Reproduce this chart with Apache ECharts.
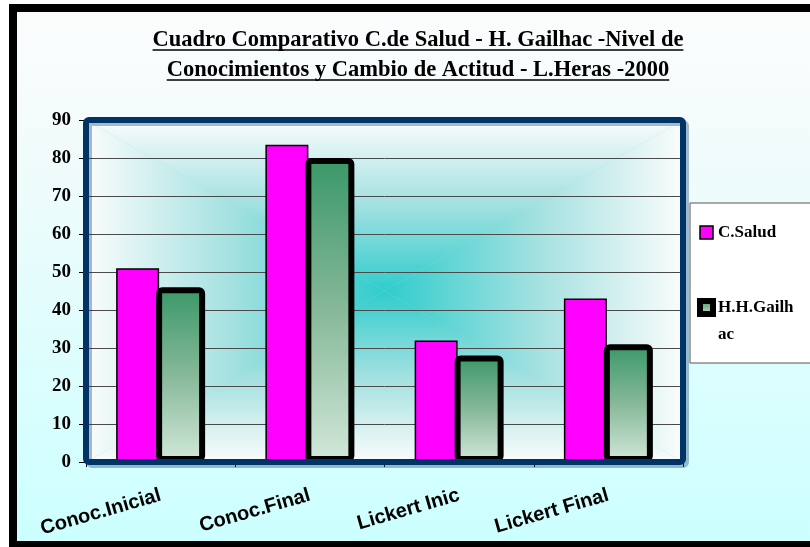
<!DOCTYPE html>
<html>
<head>
<meta charset="utf-8">
<script src="https://cdn.jsdelivr.net/npm/echarts@6/dist/echarts.min.js"></script>
<style>
  html, body { margin: 0; padding: 0; width: 810px; height: 547px; overflow: hidden; background: #fff; }
  #frame {
    position: absolute; left: 9px; top: 4px; width: 900px; height: 545px;
    box-sizing: border-box; border: 8px solid #000;
    background: linear-gradient(to bottom, #fbfdfd 0%, #f2fbfb 25%, #ccffff 100%);
  }
  #chart { position: absolute; left: 0; top: 0; width: 810px; height: 547px; }
</style>
</head>
<body>
<div id="frame"></div>
<div id="chart"></div>
<script>
// Data
const categories = ['Conoc.Inicial', 'Conoc.Final', 'Lickert Inic', 'Lickert Final'];
const seriesNames = ['C.Salud', 'H.H.Gailhac'];
const saludValues = [51, 83.5, 32, 43];
const gailhacValues = [46, 80, 28, 31];
const yMin = 0, yMax = 90, yStep = 10;
const titleLines = [
  'Cuadro Comparativo C.de Salud - H. Gailhac -Nivel de',
  'Conocimientos y Cambio de Actitud - L.Heras -2000'
];

// Layout of the plotting area (pixels)
const GRID = { left: 86, top: 120, right: 683, bottom: 462 };
const cx = (GRID.left + GRID.right) / 2, cy = (GRID.top + GRID.bottom) / 2;

const TITLE_X = 418, TITLE_TOP = 25, TITLE_LH = 30, TITLE_FS = 22.5;
const titleFont = 'bold ' + TITLE_FS + 'px "Liberation Serif"';

function textWidth(str, font) {
  const c = document.createElement('canvas').getContext('2d');
  c.font = font;
  return c.measureText(str).width;
}

// "from centre" rectangular gradient: four triangles fading edge -> centre
const EDGE = '#fafcfc', MID = '#a2e0e0', CENTER = '#30cccc';
function stops() {
  return [{ offset: 0, color: EDGE }, { offset: 0.5, color: MID }, { offset: 1, color: CENTER }];
}
function lin(x, y, x2, y2) {
  return { type: 'linear', x: x, y: y, x2: x2, y2: y2, global: true, colorStops: stops() };
}
const L = GRID.left, T = GRID.top, R = GRID.right, B = GRID.bottom;
const bgElements = [
  { type: 'rect', z: -20, silent: true, shape: { x: L, y: T, width: R - L, height: B - T }, style: { fill: MID } },
  { type: 'polygon', z: -19, silent: true, shape: { points: [[L, T], [R, T], [cx, cy]] }, style: { fill: lin(0, T, 0, cy) } },
  { type: 'polygon', z: -19, silent: true, shape: { points: [[L, B], [R, B], [cx, cy]] }, style: { fill: lin(0, B, 0, cy) } },
  { type: 'polygon', z: -19, silent: true, shape: { points: [[L, T], [L, B], [cx, cy]] }, style: { fill: lin(L, 0, cx, 0) } },
  { type: 'polygon', z: -19, silent: true, shape: { points: [[R, T], [R, B], [cx, cy]] }, style: { fill: lin(R, 0, cx, 0) } },
  // navy frame around the plot
  { type: 'rect', z: 50, silent: true,
    shape: { x: L, y: T, width: R - L, height: B - T, r: 3 },
    style: { fill: null, stroke: '#003366', lineWidth: 6,
             shadowColor: 'rgba(20,60,110,0.35)', shadowOffsetX: 3, shadowOffsetY: 3, shadowBlur: 0 } }
];

// underline for each title line
const underlines = titleLines.map(function (s, i) {
  const w = textWidth(s, titleFont);
  const y = TITLE_TOP + TITLE_LH * i + TITLE_LH / 2 + 10;
  return { type: 'line', z: 60, silent: true,
    shape: { x1: TITLE_X - w / 2, y1: y, x2: TITLE_X + w / 2, y2: y },
    style: { stroke: '#000', lineWidth: 1.5 } };
});

const chart = echarts.init(document.getElementById('chart'), null, { renderer: 'canvas' });

chart.setOption({
  backgroundColor: 'transparent',
  animation: false,
  title: {
    text: titleLines.join('\n'),
    left: TITLE_X, top: TITLE_TOP, textAlign: 'center', padding: 0,
    textStyle: { fontFamily: 'Liberation Serif', fontWeight: 'bold', fontSize: TITLE_FS, color: '#000', lineHeight: TITLE_LH }
  },
  legend: {
    orient: 'vertical',
    left: 690, top: 203,
    backgroundColor: '#ffffff',
    borderColor: '#555', borderWidth: 1, borderRadius: 0,
    padding: [16, 40, 15, 7],
    itemWidth: 13, itemHeight: 13, itemGap: 21,
    icon: 'rect',
    textStyle: { fontFamily: 'Liberation Serif', fontWeight: 'bold', fontSize: 17, color: '#000', lineHeight: 27 },
    // long name wraps in the narrow box; a blank first line keeps "H.H.Gailh" level with its key
    formatter: function (name) { return name === 'H.H.Gailhac' ? '\nH.H.Gailh\nac' : name; },
    data: [
      { name: seriesNames[0], itemStyle: { borderWidth: 1.5, borderColor: '#000' } },
      { name: seriesNames[1], itemStyle: { borderWidth: 6, borderColor: '#000' } }
    ]
  },
  grid: { left: GRID.left, top: GRID.top, width: GRID.right - GRID.left, height: GRID.bottom - GRID.top, show: false },
  xAxis: {
    type: 'category',
    data: categories,
    offset: 4,
    axisLine: { show: true, lineStyle: { color: '#000', width: 1 } },
    axisTick: { show: true, length: 5, alignWithLabel: false, lineStyle: { color: '#000' } },
    axisLabel: {
      rotate: 16, margin: 29, interval: 0,
      fontFamily: 'Liberation Sans', fontWeight: 'bold', fontSize: 20, color: '#000'
    },
    splitLine: { show: false }
  },
  yAxis: {
    type: 'value',
    min: yMin, max: yMax, interval: yStep,
    axisLine: { show: false },
    axisTick: { show: true, length: 7, lineStyle: { color: '#000' } },
    axisLabel: { margin: 15, fontFamily: 'Liberation Serif', fontWeight: 'bold', fontSize: 19, color: '#000' },
    splitLine: { show: true, lineStyle: { color: '#4a4a4a', width: 1 } }
  },
  graphic: { elements: bgElements.concat(underlines) },
  series: [
    {
      name: seriesNames[0], type: 'bar', data: saludValues,
      barWidth: 43, barGap: '-7%',
      itemStyle: { color: '#ff00ff', borderColor: '#000', borderWidth: 1.5 }
    },
    {
      name: seriesNames[1], type: 'bar', data: gailhacValues,
      barWidth: 49, barGap: '-7%',
      itemStyle: {
        color: { type: 'linear', x: 0, y: 0, x2: 0, y2: 1, colorStops: [
          { offset: 0, color: '#3a9868' }, { offset: 0.5, color: '#86b898' }, { offset: 1, color: '#d2e8da' }
        ] },
        borderColor: '#000', borderWidth: 6, borderRadius: 3
      }
    }
  ]
});
</script>
</body>
</html>
